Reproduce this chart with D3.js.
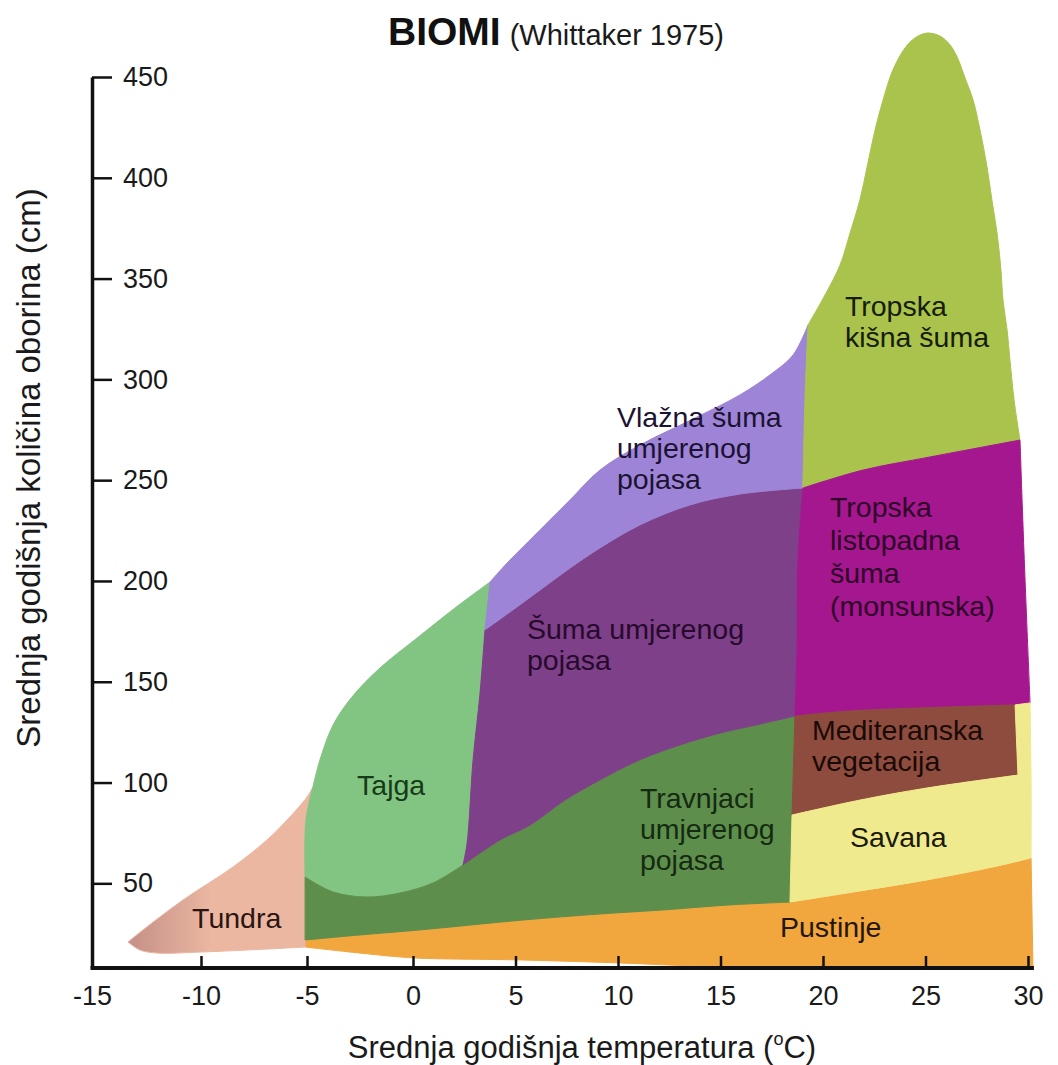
<!DOCTYPE html>
<html>
<head>
<meta charset="utf-8">
<script src="https://cdn.jsdelivr.net/npm/d3@7"></script>
<style>
html, body { margin: 0; padding: 0; background: #fff; }
svg { display: block; font-family: "Liberation Sans", Arial, Helvetica, sans-serif; }
</style>
</head>
<body>
<svg id="chart" width="1058" height="1065"></svg>
<script>
// axis ticks
const xTicks = [-15, -10, -5, 0, 5, 10, 15, 20, 25, 30];
const yTicks = [50, 100, 150, 200, 250, 300, 350, 400, 450];

// biome boundaries, points are [temperature °C, precipitation cm]
const tundraTop = [[-13.35, 20.9], [-12.66, 26.9], [-10.83, 41.7], [-8.49, 58.1], [-6.89, 71.5], [-5.94, 81.4], [-5.0, 92.8], [-4.72, 97.8]];
const tundraBottom = [[-13.35, 20.9], [-12.8, 16.9], [-12.02, 15.4], [-10.05, 15.9], [-6.89, 17.4], [-5.09, 18.4]];
const tajgaWest = [[-4.72, 97.8], [-5.05, 81.4], [-5.09, 53.1]];
const grassWest = [[-5.09, 53.1], [-5.09, 21.9]];
const desertWest = [[-5.09, 21.9], [-5.09, 18.4]];
const tajgaOuter = [[-4.72, 97.8], [-4.39, 111.2], [-3.77, 128.5], [-2.88, 142.4], [-1.56, 156.8], [0.2, 171.7], [2.05, 186.6], [3.76, 199.5]];
const tajgaRightUpper = [[3.76, 199.5], [3.51, 175.7]];
const tajgaRightLower = [[3.51, 175.7], [3.27, 144.4], [2.93, 111.2], [2.64, 70], [2.44, 59.1]];
const tajgaBottom = [[-5.09, 53.1], [-3.77, 45.7], [-2.17, 43.2], [-0.61, 45.2], [0.98, 50.2], [2.44, 59.1]];
const vlTop = [[3.76, 199.5], [4.59, 208.9], [5.37, 216.9], [6.44, 227.8], [7.66, 240.2], [9.12, 255], [11.07, 267.4], [13.85, 281.3], [15.95, 292.3], [17.41, 302.2], [18.54, 312.1], [19.27, 327]];
const dividerTop = [[19.27, 327], [19.12, 289.8], [19.02, 246.1]];
const dividerMid = [[19.02, 246.1], [18.78, 210.4], [18.73, 165.8], [18.63, 133]];
const dividerMed = [[18.63, 133], [18.49, 83.9]];
const dividerSav = [[18.49, 83.9], [18.39, 40.7]];
const vlSuma = [[3.51, 175.7], [4.73, 184.6], [6.2, 195.5], [7.66, 206.4], [9.12, 216.4], [11.07, 227.8], [13.51, 237.7], [15.95, 243.1], [19.02, 246.1]];
const grassSuma = [[2.44, 59.1], [4.24, 71.5], [5.71, 78.9], [7.41, 91.3], [9.12, 101.3], [10.83, 110.2], [12.29, 116.1], [14.63, 123.6], [16.93, 129], [18.63, 133]];
const rfOuter = [[19.27, 327], [20.1, 341.9], [20.83, 356.7], [21.32, 372.6], [21.8, 389], [22.15, 405.4], [22.54, 423.7], [22.93, 438.6], [23.41, 453.5], [24, 464.4], [24.49, 469.4], [25.07, 471.8], [25.71, 470.3], [26.2, 465.9], [26.54, 460], [26.93, 449.5], [27.32, 438.6], [27.66, 423.7], [28, 405.4], [28.24, 389], [28.49, 372.6], [28.68, 354.3], [28.78, 339.4], [28.98, 324.5], [29.12, 309.6], [29.32, 289.8], [29.61, 269.9]];
const rfMag = [[19.02, 246.1], [21.95, 255], [25.22, 261.5], [29.61, 269.9]];
const magRight = [[29.61, 269.9], [29.8, 215.4], [30.1, 139.5]];
const medTop = [[18.63, 133], [21.32, 135.5], [26.2, 137.5], [29.37, 138.5]];
const stripTop = [[29.37, 138.5], [30.1, 139.5]];
const medRight = [[29.37, 138.5], [29.51, 103.7]];
const medBottom = [[18.49, 83.9], [21.8, 91.3], [25.07, 97.3], [29.51, 103.7]];
const savRight = [[30.1, 139.5], [30.15, 100], [30.15, 62.6]];
const desertTopW = [[-5.09, 21.9], [-2.5, 24.4], [0.34, 26.9], [5.37, 31.8], [9.12, 34.8], [12.2, 36.8], [15.46, 39.3], [18.39, 40.7]];
const desertTopE = [[18.39, 40.7], [21.8, 46.2], [25.07, 51.7], [28.29, 58.1], [30.15, 62.6]];
const desertRight = [[30.15, 62.6], [30.24, 9]];
const desertBottom = [[30.24, 9], [23.76, 8.5], [14, 9], [10.1, 10.5], [5.22, 12], [0.05, 13], [-2.5, 15.4], [-5.09, 18.4]];

// each biome is a ring of boundaries, true = walk it backwards
const biomes = [
    { name: 'Pustinje', ring: [[desertTopW], [desertTopE], [desertRight], [desertBottom], [desertWest, true]] },
    { name: 'Tundra', ring: [[tundraTop], [tajgaWest], [grassWest], [desertWest], [tundraBottom, true]] },
    { name: 'Tajga', ring: [[tajgaOuter], [tajgaRightUpper], [tajgaRightLower], [tajgaBottom, true], [tajgaWest, true]] },
    { name: 'Travnjaci', ring: [[tajgaBottom], [grassSuma], [dividerMed], [dividerSav], [desertTopW, true], [grassWest, true]] },
    { name: 'Suma', ring: [[vlSuma], [dividerMid], [grassSuma, true], [tajgaRightLower, true]] },
    { name: 'Vlazna', ring: [[vlTop], [dividerTop], [vlSuma, true], [tajgaRightUpper, true]] },
    { name: 'Kisna', ring: [[rfOuter], [rfMag, true], [dividerTop, true]] },
    { name: 'Listopadna', ring: [[rfMag], [magRight], [stripTop, true], [medTop, true], [dividerMid, true]] },
    { name: 'Mediteranska', ring: [[medTop], [medRight], [medBottom, true], [dividerMed, true]] },
    { name: 'Savana', ring: [[medBottom], [medRight, true], [stripTop], [savRight], [desertTopE, true], [dividerSav, true]] }
];

const labels = [
    { biome: 'Kisna', lines: ['Tropska', 'kišna šuma'], at: [21.07, 331.4] },
    { biome: 'Vlazna', lines: ['Vlažna šuma', 'umjerenog', 'pojasa'], at: [9.95, 276.4] },
    { biome: 'Listopadna', lines: ['Tropska', 'listopadna', 'šuma', '(monsunska)'], at: [20.34, 231.7] },
    { biome: 'Suma', lines: ['Šuma umjerenog', 'pojasa'], at: [5.56, 171] },
    { biome: 'Tajga', lines: ['Tajga'], at: [-2.64, 93.8] },
    { biome: 'Tundra', lines: ['Tundra'], at: [-10.41, 27.8] },
    { biome: 'Travnjaci', lines: ['Travnjaci', 'umjerenog', 'pojasa'], at: [11.07, 87.4] },
    { biome: 'Mediteranska', lines: ['Mediteranska', 'vegetacija'], at: [19.46, 121] },
    { biome: 'Savana', lines: ['Savana'], at: [21.32, 68] },
    { biome: 'Pustinje', lines: ['Pustinje'], at: [17.9, 23.4] }
];

const fill = {
    Pustinje: '#f1a63e', Tundra: 'url(#tundraFade)', Tajga: '#82c482', Travnjaci: '#5e8e4b',
    Suma: '#7e4088', Vlazna: '#9d84d6', Kisna: '#a9c34d', Listopadna: '#a5178f',
    Mediteranska: '#8d4c3e', Savana: '#f0ea8e'
};
const edge = { Tundra: '#ebb7a1' };
const ink = {
    Pustinje: '#231608', Tundra: '#2a1512', Tajga: '#173a17', Travnjaci: '#142a12',
    Suma: '#260a2c', Vlazna: '#1c1232', Kisna: '#161c06', Listopadna: '#2e0428',
    Mediteranska: '#1a0a06', Savana: '#1a1a0a'
};
const lineGap = { Listopadna: 33 };

const svg = d3.select('#chart');
const font = '"Liberation Sans", Arial, Helvetica, sans-serif';

const x = d3.scaleLinear().domain([-15, -10, 0, 30]).range([92, 201, 413, 1028]);
const y = d3.scaleLinear().domain([8, 450]).range([968, 77]);

const grad = svg.append('defs').append('linearGradient')
    .attr('id', 'tundraFade')
    .attr('gradientUnits', 'userSpaceOnUse')
    .attr('x1', x(-13.4)).attr('x2', x(-9.5)).attr('y1', 0).attr('y2', 0);
grad.append('stop').attr('offset', 0).attr('stop-color', '#c48f87');
grad.append('stop').attr('offset', 1).attr('stop-color', '#ebb7a1');

const line = d3.line()
    .x(d => x(d[0]))
    .y(d => y(d[1]))
    .curve(d3.curveCatmullRom.alpha(0.5));

function ringPath(ring) {
    return ring.map(([pts, back], i) => {
        const p = line(back ? pts.slice().reverse() : pts);
        return i === 0 ? p : p.replace(/^M/, 'L');
    }).join('') + 'Z';
}

svg.append('g')
    .selectAll('path')
    .data(biomes)
    .enter()
    .append('path')
    .attr('d', d => ringPath(d.ring))
    .attr('fill', d => fill[d.name])
    .attr('stroke', d => edge[d.name] || fill[d.name])
    .attr('stroke-width', 1)
    .attr('stroke-linejoin', 'round');

// biome names
const lab = svg.append('g')
    .selectAll('text')
    .data(labels)
    .enter()
    .append('text')
    .attr('x', d => x(d.at[0]))
    .attr('y', d => y(d.at[1]))
    .attr('font-size', 28.5)
    .attr('fill', d => ink[d.biome]);
lab.selectAll('tspan')
    .data(d => d.lines.map((t, i) => ({ t, i, gap: lineGap[d.biome] || 31, x0: x(d.at[0]) })))
    .enter()
    .append('tspan')
    .attr('x', d => d.x0)
    .attr('dy', d => d.i === 0 ? 0 : d.gap)
    .text(d => d.t);

// y axis
const gy = svg.append('g')
    .attr('transform', `translate(${x(-15)},0)`)
    .call(d3.axisRight(y).tickValues(yTicks).tickSize(20).tickSizeOuter(0).tickPadding(11))
    .attr('font-family', null).attr('font-size', null);
gy.select('.domain').attr('stroke', '#111').attr('stroke-width', 3.5);
gy.selectAll('.tick line').attr('stroke', '#111').attr('stroke-width', 2.5);
gy.selectAll('.tick text').attr('font-family', font).attr('font-size', 27).attr('fill', '#1a1a1a');

// x axis
const gx = svg.append('g')
    .attr('transform', `translate(0,${y(8)})`)
    .call(d3.axisBottom(x).tickValues(xTicks).tickFormat(d => String(d))
        .tickSize(-12).tickSizeOuter(0).tickPadding(18))
    .attr('font-family', null).attr('font-size', null);
gx.select('.domain').remove();
gx.selectAll('.tick line').attr('stroke', '#111').attr('stroke-width', 2.5)
    .filter(d => d === -15).remove();
gx.selectAll('.tick text').attr('font-family', font).attr('font-size', 27).attr('fill', '#1a1a1a');
gx.append('line')
    .attr('x1', x(-15) - 1.5).attr('x2', x(30.24) + 1)
    .attr('y1', 0).attr('y2', 0)
    .attr('stroke', '#111').attr('stroke-width', 4);

// axis titles
const xt = svg.append('text')
    .attr('x', 582).attr('y', 1058)
    .attr('text-anchor', 'middle')
    .attr('font-size', 31).attr('fill', '#1a1a1a');
xt.append('tspan').text('Srednja godišnja temperatura (');
xt.append('tspan').attr('font-size', 18).attr('dy', -13).text('o');
xt.append('tspan').attr('dy', 13).text('C)');

svg.append('text')
    .attr('transform', 'translate(40,468) rotate(-90)')
    .attr('text-anchor', 'middle')
    .attr('font-size', 33).attr('fill', '#1a1a1a')
    .text('Srednja godišnja količina oborina (cm)');

// title
const tt = svg.append('text').attr('x', 388).attr('y', 45).attr('fill', '#111');
tt.append('tspan').attr('font-size', 39).attr('font-weight', 'bold').text('BIOMI');
tt.append('tspan').attr('font-size', 29).attr('dx', 9).attr('fill', '#1a1a1a').text('(Whittaker 1975)');
</script>
</body>
</html>
